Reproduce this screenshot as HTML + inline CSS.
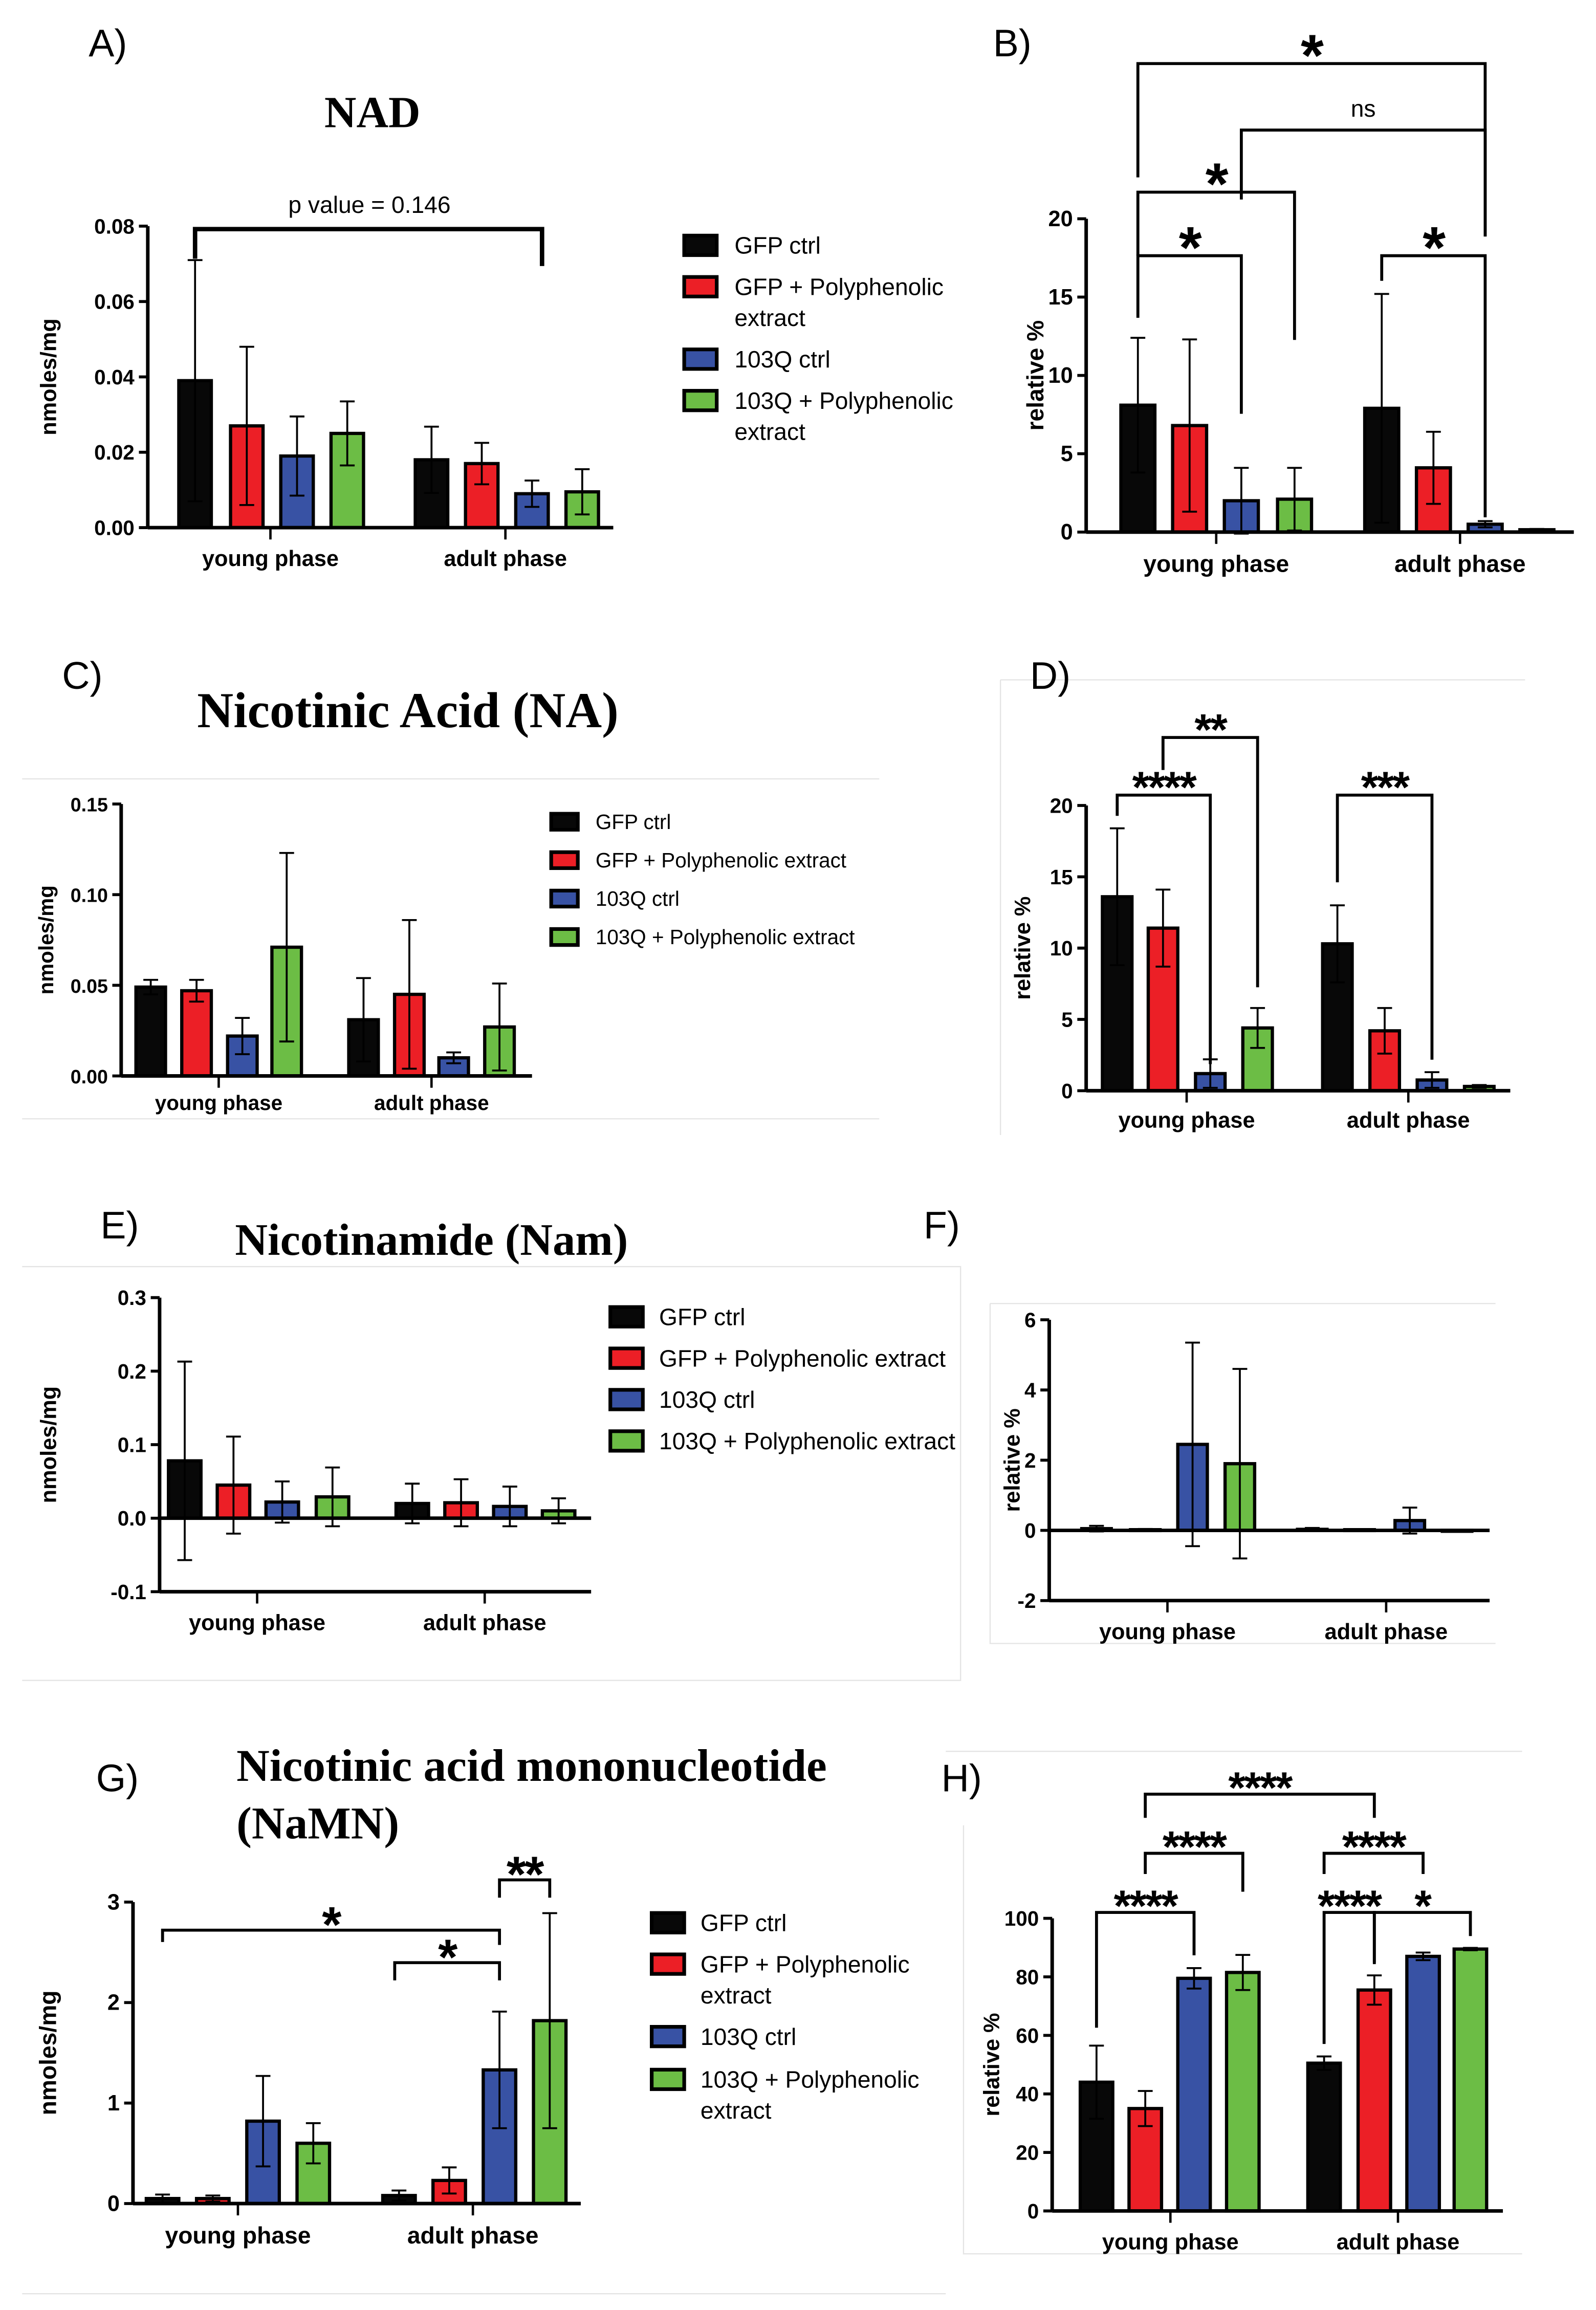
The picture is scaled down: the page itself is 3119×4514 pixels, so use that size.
<!DOCTYPE html>
<html><head><meta charset="utf-8">
<style>html,body{margin:0;padding:0;background:#fff}svg{display:block}text{font-family:"Liberation Sans",Arial,sans-serif}</style>
</head><body>
<svg id="fig" width="3119" height="4514" viewBox="0 0 1080 1563" xmlns="http://www.w3.org/2000/svg">
<rect width="1080" height="1563" fill="#fff"/>
<g id="static">
<g stroke="#e4e4e4" stroke-width="0.8" fill="none">
<path d="M15 527 H595"/><path d="M15 757 H595"/>
<path d="M677 460 H1032 M677 460 V768"/>
<path d="M15 857 H650 V1137 H15"/>
<path d="M670 882 H1012 M670 882 V1112 H1012"/>
<path d="M640 1185 H1030 M652 1235 V1525 H1030"/>
<path d="M15 1552 H640"/>
</g>
<text x="60" y="38" font-size="26">A)</text>
<text x="672" y="38" font-size="26">B)</text>
<text x="42" y="466" font-size="26">C)</text>
<text x="697" y="466" font-size="26">D)</text>
<text x="68" y="838" font-size="26">E)</text>
<text x="625" y="838" font-size="26">F)</text>
<text x="65" y="1212" font-size="26">G)</text>
<text x="637" y="1212" font-size="26">H)</text>
<text x="252" y="86" font-size="30" font-weight="bold" text-anchor="middle" style="font-family:'Liberation Serif',serif">NAD</text>
<text x="276" y="492" font-size="34" font-weight="bold" text-anchor="middle" style="font-family:'Liberation Serif',serif">Nicotinic Acid (NA)</text>
<text x="292" y="849" font-size="30.6" font-weight="bold" text-anchor="middle" style="font-family:'Liberation Serif',serif">Nicotinamide (Nam)</text>
<text x="160" y="1205" font-size="31" font-weight="bold" style="font-family:'Liberation Serif',serif">Nicotinic acid mononucleotide</text>
<text x="160" y="1244" font-size="31" font-weight="bold" style="font-family:'Liberation Serif',serif">(NaMN)</text>
<text x="250" y="144" font-size="16" text-anchor="middle">p value = 0.146</text>
</g>
<g id="charts"></g>
<g id="legends"></g>
</svg>
<script>
const NS='http://www.w3.org/2000/svg';
const colors=['#080808','#ec1f26','#3852a4','#6cbd45'];
const groups=['young phase','adult phase'];
const seriesNames=['GFP ctrl','GFP + Polyphenolic extract','103Q ctrl','103Q + Polyphenolic extract'];
const aVals=[0.039,0.027,0.019,0.025,0.018,0.017,0.009,0.0095];
const aErr=[0.032,0.021,0.0105,0.0085,0.0088,0.0055,0.0035,0.006];
const aTicks=[0,0.02,0.04,0.06,0.08];
const bVals=[8.1,6.8,2.0,2.1,7.9,4.1,0.5,0.15];
const bErr=[4.3,5.5,2.1,2.0,7.3,2.3,0.2,0.05];
const bTicks=[0,5,10,15,20];
const cVals=[0.049,0.047,0.022,0.071,0.031,0.045,0.010,0.027];
const cErr=[0.004,0.006,0.010,0.052,0.023,0.041,0.003,0.024];
const cTicks=[0,0.05,0.10,0.15];
const dVals=[13.6,11.4,1.2,4.4,10.3,4.2,0.75,0.3];
const dErr=[4.8,2.7,1.0,1.4,2.7,1.6,0.55,0.1];
const dTicks=[0,5,10,15,20];
const eVals=[0.078,0.045,0.022,0.029,0.020,0.021,0.016,0.010];
const eErr=[0.135,0.066,0.028,0.040,0.027,0.032,0.027,0.017];
const eTicks=[-0.1,0,0.1,0.2,0.3];
const fVals=[0.05,0.02,2.45,1.9,0.03,0.02,0.28,0.0];
const fErr=[0.08,0.02,2.9,2.7,0.04,0.01,0.37,0.0];
const fTicks=[-2,0,2,4,6];
const gVals=[0.05,0.05,0.82,0.6,0.08,0.23,1.33,1.82];
const gErr=[0.04,0.03,0.45,0.2,0.05,0.13,0.58,1.07];
const gTicks=[0,1,2,3];
const hVals=[44,35,79.5,81.5,50.5,75.5,87,89.5];
const hErr=[12.5,6,3.5,6,2.3,5,1.3,0.4];
const hTicks=[0,20,40,60,80,100];
// brackets: [fromBar, toBar, level(px y), text, legFrom(px), legTo(px)]
const aBr=[[0,6.2,155,'',175,180]];
const bBr=[[0,6,43,'*',120,160],[2,6,88,'ns',135,160],[0,3,130,'*',173,230],[0,2,173,'*',215,280],[4,6,173,'*',190,350]];
const dBr=[[1,3,499,'**',521,668],[0,2,538,'****',552,720],[4,6,538,'***',597,717]];
const gBr=[[0,6,1306,'*',1314,1316],[3.95,6,1328,'*',1340,1340],[6,7,1272,'**',1284,1284]];
const hBr=[[1,5,1214,'****',1230,1230],[1,3,1254,'****',1268,1280],[4,6,1254,'****',1268,1268],[0,2,1294,'****',1372,1323],[4,5,1294,'****',1383,1328],[5,7,1294,'*',1329,1310]];

const panels=[
 {id:'a',vals:aVals,err:aErr,ticks:aTicks,fmt:2,x0:100,x1:415,y0v:0,y1v:0.08,y0:357,y1:153,cx:[132,167,201,235,292,326,360,394],bw:22,ly:383,gx:[183,342],ytitle:'nmoles/mg',ytx:38,fs:14,br:aBr,brFs:30,off:12},
 {id:'b',vals:bVals,err:bErr,ticks:bTicks,fmt:0,x0:735,x1:1065,y0v:0,y1v:20,y0:360,y1:148,cx:[770,805,840,876,935,970,1005,1040],bw:23,ly:387,gx:[823,988],ytitle:'relative %',ytx:706,fs:15,br:bBr,brFs:40,off:13},
 {id:'c',vals:cVals,err:cErr,ticks:cTicks,fmt:2,x0:82,x1:360,y0v:0,y1v:0.15,y0:728,y1:544,cx:[102,133,164,194,246,277,307,338],bw:20,ly:751,gx:[148,292],ytitle:'nmoles/mg',ytx:36,fs:13,br:[]},
 {id:'d',vals:dVals,err:dErr,ticks:dTicks,fmt:0,x0:735,x1:1022,y0v:0,y1v:20,y0:738,y1:545,cx:[756,787,819,851,905,937,969,1001],bw:20,ly:763,gx:[803,953],ytitle:'relative %',ytx:697,fs:14,br:dBr,brFs:30,off:11},
 {id:'e',vals:eVals,err:eErr,ticks:eTicks,fmt:1,x0:108,x1:400,y0v:-0.1,y1v:0.3,y0:1077,y1:878,cx:[125,158,191,225,279,312,345,378],bw:22,ly:1103,gx:[174,328],ytitle:'nmoles/mg',ytx:38,fs:14,br:[],zero:true},
 {id:'f',vals:fVals,err:fErr,ticks:fTicks,fmt:0,x0:710,x1:1008,y0v:-2,y1v:6,y0:1083,y1:893,cx:[742,775,807,839,888,920,954,986],bw:20,ly:1109,gx:[790,938],ytitle:'relative %',ytx:690,fs:14,br:[],zero:true},
 {id:'g',vals:gVals,err:gErr,ticks:gTicks,fmt:0,x0:90,x1:393,y0v:0,y1v:3,y0:1491,y1:1287,cx:[110,144,178,212,270,304,338,372],bw:22,ly:1518,gx:[161,320],ytitle:'nmoles/mg',ytx:38,fs:15,br:gBr,brFs:34,off:10},
 {id:'h',vals:hVals,err:hErr,ticks:hTicks,fmt:0,x0:712,x1:1017,y0v:0,y1v:100,y0:1496,y1:1298,cx:[742,775,808,841,896,930,963,995],bw:22,ly:1522,gx:[792,946],ytitle:'relative %',ytx:676,fs:14,br:hBr,brFs:30,off:10}
];
function mk(tag,attrs,parent){const e=document.createElementNS(NS,tag);for(const k in attrs)e.setAttribute(k,attrs[k]);parent.appendChild(e);return e;}
const charts=document.getElementById('charts');
panels.forEach(p=>{
 const g=mk('g',{},charts);
 
 
 const Y=v=>p.y0+(v-p.y0v)/(p.y1v-p.y0v)*(p.y1-p.y0);
 const base=Y(Math.max(0,p.y0v));
 p.vals.forEach((v,i)=>{
  const x=p.cx[i]-p.bw/2;const yt=Y(v);
  const r=mk('rect',{x:x,y:Math.min(yt,base),width:p.bw,height:Math.max(0.6,Math.abs(base-yt)),fill:colors[i%4],stroke:'#000','stroke-width':2.2},g);
  
  
  const e=p.err[i];
  if(e>0){
   const eb=mk('path',{d:`M${p.cx[i]} ${Y(v+e)}V${Y(v-e)}M${p.cx[i]-5} ${Y(v+e)}h10M${p.cx[i]-5} ${Y(v-e)}h10`,stroke:'#000','stroke-width':1.3,fill:'none'},g);
   
   
  }
 });
 const ax=mk('path',{d:`M${p.x0} ${p.y1}V${p.y0}M${p.x0} ${p.y0}H${p.x1}`,stroke:'#000','stroke-width':2.4,fill:'none'},g);
 
 
 if(p.zero){const z=mk('path',{d:`M${p.x0} ${Y(0)}H${p.x1}`,stroke:'#000','stroke-width':2.4},g);}
 p.ticks.forEach(t=>{
  const y=Y(t);
  mk('path',{d:`M${p.x0-6} ${y}H${p.x0}`,stroke:'#000','stroke-width':2},g);
  const tx=mk('text',{x:p.x0-9,y:y+5,'font-size':p.fs,'font-weight':'bold','text-anchor':'end'},g);
  tx.textContent=t.toFixed(p.fmt);
  
  
 });
 p.gx.forEach((gx,k)=>{
  mk('path',{d:`M${gx} ${p.y0}v8`,stroke:'#000','stroke-width':1.6},g);
  const t=mk('text',{x:gx,y:p.ly,'font-size':p.fs+1,'font-weight':'bold','text-anchor':'middle'},g);
  t.textContent=groups[k];
  
  
 });
 const yt=mk('text',{x:p.ytx,y:(p.y0+p.y1)/2,'font-size':p.fs+1,'font-weight':'bold','text-anchor':'middle',transform:`rotate(-90 ${p.ytx} ${(p.y0+p.y1)/2})`},g);
 yt.textContent=p.ytitle;
 
 
 p.br.forEach((b,k)=>{
  const bx=i=>{const f=Math.floor(i),fr=i-f;return fr?p.cx[f]+fr*(p.cx[f+1]-p.cx[f]):p.cx[f];};
  const xa=bx(b[0]),xb=bx(b[1]);
  const path=mk('path',{d:`M${xa} ${b[4]}V${b[2]}H${xb}V${b[5]}`,stroke:'#000','stroke-width':p.id==='a'?3:2,fill:'none'},g);
  
  
  if(b[3]){
   let t;
   if(b[3]==='ns'){t=mk('text',{x:(xa+xb)/2,y:b[2]-9,'font-size':16,'text-anchor':'middle'},g);}
   else{t=mk('text',{x:(xa+xb)/2,y:b[2]-p.off+0.53*p.brFs,'font-size':p.brFs,'font-weight':'bold','text-anchor':'middle','letter-spacing':-1},g);}
   t.textContent=b[3];
   
   }
 });
});
const legends=[
 {x:462,ys:[166,194,243,271],fs:16,lines:[['GFP ctrl'],['GFP + Polyphenolic','extract'],['103Q ctrl'],['103Q + Polyphenolic','extract']],sz:22,tx:497},
 {x:372,ys:[556,582,608,634],fs:14,lines:[['GFP ctrl'],['GFP + Polyphenolic extract'],['103Q ctrl'],['103Q + Polyphenolic extract']],sz:18,tx:403},
 {x:412,ys:[891,919,947,975],fs:16,lines:[['GFP ctrl'],['GFP + Polyphenolic extract'],['103Q ctrl'],['103Q + Polyphenolic extract']],sz:22,tx:446},
 {x:440,ys:[1301,1329,1378,1407],fs:16,lines:[['GFP ctrl'],['GFP + Polyphenolic','extract'],['103Q ctrl'],['103Q + Polyphenolic','extract']],sz:22,tx:474}
];
const lg=document.getElementById('legends');
legends.forEach((L,li)=>{
 L.ys.forEach((y,i)=>{
  const r=mk('rect',{x:L.x+1,y:y-L.sz*0.3,width:L.sz,height:L.sz*0.6,fill:colors[i],stroke:'#000','stroke-width':2.5},lg);
  
  
  L.lines[i].forEach((ln,j)=>{
   const t=mk('text',{x:L.tx,y:y+L.fs*0.35+j*21,'font-size':L.fs},lg);
   t.textContent=ln;
   
   
  });
 });
});
</script>
</body></html>
